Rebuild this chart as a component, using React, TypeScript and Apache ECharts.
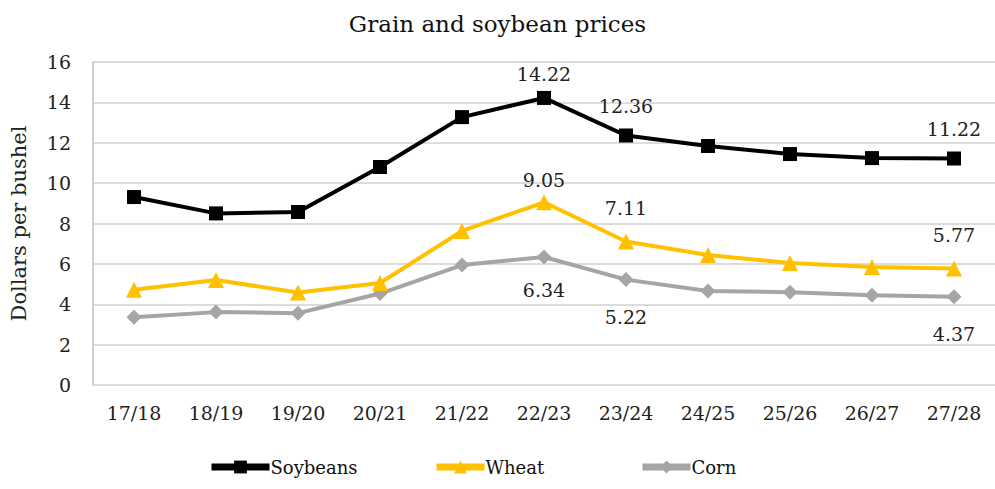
import React, { useEffect, useRef } from "react";
import * as echarts from "echarts";

const categories = ["17/18", "18/19", "19/20", "20/21", "21/22", "22/23", "23/24", "24/25", "25/26", "26/27", "27/28"];
const soybeans = [9.31, 8.5, 8.57, 10.8, 13.27, 14.22, 12.36, 11.84, 11.44, 11.24, 11.22];
const wheat = [4.72, 5.2, 4.58, 5.05, 7.63, 9.05, 7.11, 6.44, 6.04, 5.84, 5.77];
const corn = [3.36, 3.61, 3.56, 4.53, 5.94, 6.34, 5.22, 4.66, 4.6, 4.45, 4.37];
const labelledIdx = [5, 6, 10];
const yTicks = [0, 2, 4, 6, 8, 10, 12, 14, 16];
const seriesNames = ["Soybeans", "Wheat", "Corn"];

const FONT = "'DejaVu Serif', serif";

function withLabels(values: number[], position: string, distances: number[]) {
  return values.map((v, i) => {
    const k = labelledIdx.indexOf(i);
    if (k < 0) return v;
    return {
      value: v,
      label: {
        show: true,
        position,
        distance: distances[k],
        formatter: v.toFixed(2),
        color: "#222",
        fontSize: 19,
        fontFamily: FONT,
      },
    };
  });
}

export default function App() {
  const ref = useRef<HTMLDivElement>(null);
  useEffect(() => {
    if (!ref.current) return;
    const chart = echarts.init(ref.current, null, { renderer: "svg" });
    const legendLefts = [203, 428, 634];
    chart.setOption({
      animation: false,
      backgroundColor: "#fff",
      title: {
        text: "Grain and soybean prices",
        left: "center",
        top: 7,
        textStyle: { fontFamily: FONT, fontSize: 23, fontWeight: "normal", color: "#111" },
      },
      grid: { left: 92, right: -1, top: 62, bottom: 104 },
      legend: seriesNames.map((n, i) => ({
        data: [n],
        left: legendLefts[i],
        bottom: 8,
        itemWidth: i === 0 ? 58 : 48,
        itemHeight: 16,
        itemGap: 4,
        lineStyle: { width: 7 },
        textStyle: { fontFamily: FONT, fontSize: 18, color: "#111", padding: [0, 0, 0, -4] },
      })),
      xAxis: {
        type: "category",
        data: categories,
        boundaryGap: true,
        axisLine: { show: false },
        axisTick: { show: false },
        axisLabel: { fontFamily: FONT, fontSize: 19, color: "#222", margin: 18 },
      },
      yAxis: {
        type: "value",
        min: yTicks[0],
        max: yTicks[yTicks.length - 1],
        interval: 2,
        name: "Dollars per bushel",
        nameLocation: "middle",
        nameGap: 64,
        nameTextStyle: { fontFamily: FONT, fontSize: 21, color: "#222" },
        axisLine: { show: true, lineStyle: { color: "#d0d0d0", width: 2 } },
        axisTick: { show: false },
        axisLabel: { fontFamily: FONT, fontSize: 19, color: "#222", margin: 22 },
        splitLine: { lineStyle: { color: "#dcdcdc", width: 2 } },
      },
      series: [
        {
          name: "Soybeans",
          type: "line",
          data: withLabels(soybeans, "top", [7, 13, 13]),
          color: "#000000",
          lineStyle: { width: 4 },
          symbol: "rect",
          symbolSize: 14,
          z: 3,
        },
        {
          name: "Wheat",
          type: "line",
          data: withLabels(wheat, "top", [5, 16, 16]),
          color: "#FFC000",
          lineStyle: { width: 4 },
          symbol: "triangle",
          symbolSize: 16,
          z: 2,
        },
        {
          name: "Corn",
          type: "line",
          data: withLabels(corn, "bottom", [16, 20, 20]),
          color: "#A5A5A5",
          lineStyle: { width: 4 },
          symbol: "diamond",
          symbolSize: 15,
          z: 1,
        },
      ],
    });
    return () => chart.dispose();
  }, []);
  return <div ref={ref} style={{ width: 995, height: 489, position: "absolute", left: 0, top: 0 }} />;
}
